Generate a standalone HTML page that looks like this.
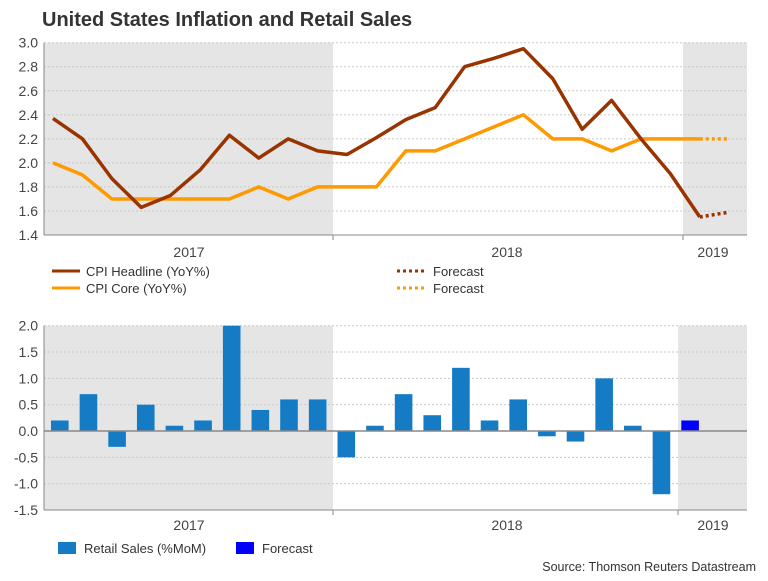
<!DOCTYPE html>
<html><head><meta charset="utf-8"><style>
body{margin:0;background:#fff;font-family:"Liberation Sans",sans-serif;}
svg text{font-family:"Liberation Sans",sans-serif;}
</style></head><body>
<svg width="768" height="576" xmlns="http://www.w3.org/2000/svg">
<text x="42" y="26" font-size="20" font-weight="bold" fill="#333">United States Inflation and Retail Sales</text>
<g id="topchart"></g>
<g id="botchart"></g>
<g>
<line x1="52" y1="271" x2="80" y2="271" stroke="#993300" stroke-width="3"/>
<text x="86" y="276" font-size="13" fill="#333">CPI Headline (YoY%)</text>
<line x1="52" y1="288" x2="80" y2="288" stroke="#ff9900" stroke-width="3"/>
<text x="86" y="293" font-size="13" fill="#333">CPI Core (YoY%)</text>
<line x1="397" y1="271" x2="425" y2="271" stroke="#993300" stroke-width="3" stroke-dasharray="3,3"/>
<text x="433" y="276" font-size="13" fill="#333">Forecast</text>
<line x1="397" y1="288" x2="425" y2="288" stroke="#ff9900" stroke-width="3" stroke-dasharray="3,3"/>
<text x="433" y="293" font-size="13" fill="#333">Forecast</text>
</g>
<g>
<rect x="58" y="542" width="18" height="12" fill="#157bc4"/>
<text x="84" y="553" font-size="13" fill="#333">Retail Sales (%MoM)</text>
<rect x="236" y="542" width="18" height="12" fill="#0000ff"/>
<text x="262" y="553" font-size="13" fill="#333">Forecast</text>
</g>
<text x="756" y="571" font-size="12.5" fill="#333" text-anchor="end">Source: Thomson Reuters Datastream</text>
</svg>
<script>
const headline=[2.37,2.2,1.87,1.63,1.73,1.94,2.23,2.04,2.2,2.1,2.07,2.21,2.36,2.46,2.8,2.87,2.95,2.7,2.28,2.52,2.2,1.91,1.55];
const headlineForecast=[1.55,1.59];
const core=[2.0,1.9,1.7,1.7,1.7,1.7,1.7,1.8,1.7,1.8,1.8,1.8,2.1,2.1,2.2,2.3,2.4,2.2,2.2,2.1,2.2,2.2,2.2];
const coreForecast=[2.2,2.2];
const topTicks=[1.4,1.6,1.8,2.0,2.2,2.4,2.6,2.8,3.0];
const retail=[0.2,0.7,-0.3,0.5,0.1,0.2,2.0,0.4,0.6,0.6,-0.5,0.1,0.7,0.3,1.2,0.2,0.6,-0.1,-0.2,1.0,0.1,-1.2];
const retailForecast=[0.2];
const botTicks=[-1.5,-1.0,-0.5,0.0,0.5,1.0,1.5,2.0];
const years=["2017","2018","2019"];
const NS="http://www.w3.org/2000/svg";
function mk(p,t,a){const el=document.createElementNS(NS,t);for(const k in a)el.setAttribute(k,a[k]);p.appendChild(el);return el;}
const L=44,R=747;
const yearX=[189,507,713];
const topG=document.getElementById('topchart');
const ty=v=>42.7+(3.0-v)/(1.6)*(235-42.7);
const tx=i=>53+i*29.4;
let e;
e=mk(topG,'rect',{x:L,y:42.7,width:333-L,height:235-42.7,fill:'#e5e5e5'});


e=mk(topG,'rect',{x:683,y:42.7,width:R-683,height:235-42.7,fill:'#e5e5e5'});


topTicks.forEach(v=>{
 e=mk(topG,'line',{x1:L,x2:R,y1:ty(v),y2:ty(v),stroke:'#c8c8c8','stroke-dasharray':'2,2'});
 
 
 e=mk(topG,'text',{x:38,y:ty(v)+5,'font-size':14,fill:'#444','text-anchor':'end'});e.textContent=v.toFixed(1);
 
 
});
mk(topG,'line',{x1:L,x2:L,y1:42.7,y2:235,stroke:'#888'});
mk(topG,'line',{x1:L,x2:R,y1:235,y2:235,stroke:'#888'});
[333,683].forEach(x=>mk(topG,'line',{x1:x,x2:x,y1:235,y2:240,stroke:'#888'}));
yearX.forEach((x,i)=>{e=mk(topG,'text',{x:x,y:257,'font-size':14,fill:'#444','text-anchor':'middle'});e.textContent=years[i];
 
 });
function line(g,arr,off,col,dash,name){
 const pts=arr.map((v,i)=>tx(i+off)+','+ty(v)).join(' ');
 const a={points:pts,fill:'none',stroke:col,'stroke-width':3.5,'stroke-linejoin':'round'};
 if(dash)a['stroke-dasharray']='3,3';
 e=mk(g,'polyline',a);
 
 
}
line(topG,core,0,'#ff9900',false,'cpi-core-line');
line(topG,coreForecast,core.length-1,'#ff9900',true,'cpi-core-forecast');
line(topG,headline,0,'#993300',false,'cpi-headline-line');
line(topG,headlineForecast,headline.length-1,'#993300',true,'cpi-headline-forecast');
const botG=document.getElementById('botchart');
const by=v=>325.7+(2.0-v)/3.5*(510-325.7);
const bx=i=>59.8+i*28.65;
e=mk(botG,'rect',{x:L,y:325.7,width:333-L,height:510-325.7,fill:'#e5e5e5'});


e=mk(botG,'rect',{x:678,y:325.7,width:R-678,height:510-325.7,fill:'#e5e5e5'});


botTicks.forEach(v=>{
 e=mk(botG,'line',{x1:L,x2:R,y1:by(v),y2:by(v),stroke:'#c8c8c8','stroke-dasharray':'2,2'});
 
 
 e=mk(botG,'text',{x:38,y:by(v)+5,'font-size':14,fill:'#444','text-anchor':'end'});e.textContent=v.toFixed(1);
 
 
});
mk(botG,'line',{x1:L,x2:L,y1:325.7,y2:510,stroke:'#888'});
mk(botG,'line',{x1:L,x2:R,y1:510,y2:510,stroke:'#888'});
[333,678].forEach(x=>mk(botG,'line',{x1:x,x2:x,y1:510,y2:515,stroke:'#888'}));
yearX.forEach((x,i)=>{e=mk(botG,'text',{x:x,y:530,'font-size':14,fill:'#444','text-anchor':'middle'});e.textContent=years[i];
 
 });
function bars(arr,off,col,name){
 arr.forEach((v,i)=>{
  const y0=by(0),y1=by(v);
  e=mk(botG,'rect',{x:bx(i+off)-8.8,y:Math.min(y0,y1),width:17.6,height:Math.abs(y1-y0),fill:col});
  
  
 });
}
bars(retail,0,'#157bc4','retail-bar');
bars(retailForecast,retail.length,'#0000ff','forecast-bar');
mk(botG,'line',{x1:L,x2:R,y1:by(0),y2:by(0),stroke:'#888','stroke-width':1.5});
</script>
</body></html>
